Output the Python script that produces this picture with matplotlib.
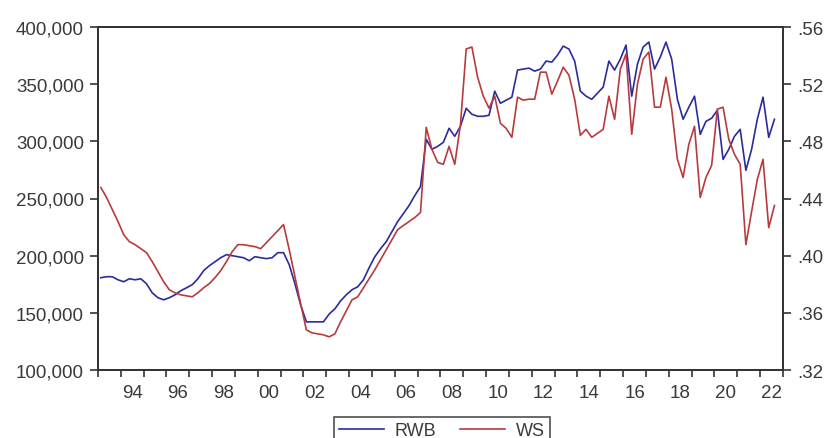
import numpy as np
import matplotlib
matplotlib.use("Agg")
import matplotlib.pyplot as plt
from matplotlib.ticker import FuncFormatter

plt.rcParams['font.family'] = ['Liberation Sans', 'DejaVu Sans']

# Quarterly observations, 1993Q1 .. 2022Q3
start_year = 1993
rwb = [180700, 181600, 181600, 178900, 177200, 179800, 178900, 179800,
       175400, 167500, 163200, 161400, 163200, 165800, 169300, 171900,
       174600, 179800, 186800, 191200, 194700, 198200, 200900, 200000,
       199100, 198200, 195600, 199100, 198200, 197400, 198200, 202600,
       202600, 192100, 175400, 157000, 142100, 142100, 142100, 142100,
       149000, 153500, 160500, 165800, 170200, 172800, 178900, 189500,
       199100, 206100, 212300, 221100, 229800, 236800, 243900, 252600,
       260500, 301800, 293000, 295600, 299100, 311400, 304400, 313200,
       328900, 323700, 321900, 321900, 322800, 343900, 333300, 336000,
       338600, 362300, 363200, 364000, 361400, 363200, 370200, 369300,
       375400, 383300, 380700, 370200, 343900, 339500, 336800, 342100,
       347400, 370200, 362300, 371900, 384200, 339500, 367500, 382500,
       386800, 363200, 373700, 386800, 371900, 336800, 319300, 329800,
       339500, 306100, 317500, 320200, 327200, 284200, 293000, 304400,
       310500, 274600, 293000, 319300, 338600, 303500, 319300]
ws = [0.4477, 0.4407, 0.4323, 0.4239, 0.4147, 0.4098, 0.4077, 0.4049,
      0.4021, 0.3958, 0.3888, 0.3818, 0.3761, 0.3740, 0.3726, 0.3719,
      0.3712, 0.3740, 0.3775, 0.3804, 0.3846, 0.3895, 0.3958, 0.4028,
      0.4077, 0.4077, 0.4070, 0.4063, 0.4049, 0.4091, 0.4133, 0.4175,
      0.4218, 0.4042, 0.3853, 0.3663, 0.3481, 0.3460, 0.3453, 0.3446,
      0.3432, 0.3453, 0.3537, 0.3614, 0.3691, 0.3712, 0.3775, 0.3839,
      0.3902, 0.3972, 0.4042, 0.4112, 0.4182, 0.4211, 0.4239, 0.4267,
      0.4302, 0.4898, 0.4744, 0.4653, 0.4639, 0.4765, 0.4639, 0.4919,
      0.5446, 0.5460, 0.5249, 0.5116, 0.5032, 0.5116, 0.4926, 0.4891,
      0.4828, 0.5109, 0.5088, 0.5095, 0.5095, 0.5284, 0.5284, 0.5130,
      0.5221, 0.5319, 0.5263, 0.5095, 0.4842, 0.4884, 0.4828, 0.4856,
      0.4884, 0.5116, 0.4954, 0.5305, 0.5411, 0.4849, 0.5200, 0.5375,
      0.5425, 0.5039, 0.5039, 0.5249, 0.5025, 0.4674, 0.4547, 0.4779,
      0.4905, 0.4407, 0.4547, 0.4632, 0.5025, 0.5039, 0.4814, 0.4709,
      0.4639, 0.4077, 0.4309, 0.4533, 0.4674, 0.4196, 0.4351]
year_labels = ['94', '96', '98', '00', '02', '04', '06', '08', '10', '12',
               '14', '16', '18', '20', '22']
series_names = ['RWB', 'WS']

n = len(rwb)
dates = start_year + (np.arange(n) + 0.5) / 4.0

fig = plt.figure(figsize=(8.28, 4.39), dpi=100)
ax = fig.add_axes([98/828, 1-371/439, (783-98)/828, (371-28)/439])
ax2 = ax.twinx()

blue = '#2b2b9c'
red = '#b83a3e'
l1, = ax.plot(dates, rwb, color=blue, lw=1.2)
l2, = ax2.plot(dates, ws, color=red, lw=1.2)

ax.set_xlim(1993, 2023)
ax.set_ylim(100000, 400000)
ax2.set_ylim(0.32, 0.56)
ax.set_yticks(np.arange(100000, 400001, 50000))
ax2.set_yticks(np.arange(0.32, 0.5601, 0.04))
ax.yaxis.set_major_formatter(FuncFormatter(lambda v, p: f"{v:,.0f}"))
ax2.yaxis.set_major_formatter(FuncFormatter(lambda v, p: f"{v:.2f}".lstrip('0')))

ax.set_xticks(np.arange(1993, 2024))
ax.set_xticklabels([])
ax.set_xticks([1994.5 + 2*k for k in range(len(year_labels))], minor=True)
ax.set_xticklabels(year_labels, minor=True)

tc = '#333333'
lc = '#3a3a3a'
fs = 13.5
ax.tick_params(axis='x', which='major', direction='out', length=5, width=1.2, color=tc)
ax.tick_params(axis='x', which='minor', length=0, pad=10, labelsize=fs, labelcolor=lc)
ax.tick_params(axis='y', direction='out', length=6, width=1.2, color=tc, pad=4,
               labelsize=fs, labelcolor=lc)
ax2.tick_params(axis='y', direction='out', length=6, width=1.2, color=tc, pad=4,
                labelsize=fs, labelcolor=lc)
for a in (ax, ax2):
    for s in a.spines.values():
        s.set_color(tc)
        s.set_linewidth(1.3)

leg = fig.legend([l1, l2], series_names, loc='upper center',
                 bbox_to_anchor=(442/828, 1-418/439), ncol=2, frameon=True,
                 fancybox=False, edgecolor='#222222', fontsize=13,
                 handlelength=2.5, handletextpad=0.6, columnspacing=1.3,
                 borderpad=0.3, borderaxespad=0)
leg.get_frame().set_linewidth(1.2)
for t in leg.get_texts():
    t.set_color(lc)

fig.savefig('out.png', dpi=100)
